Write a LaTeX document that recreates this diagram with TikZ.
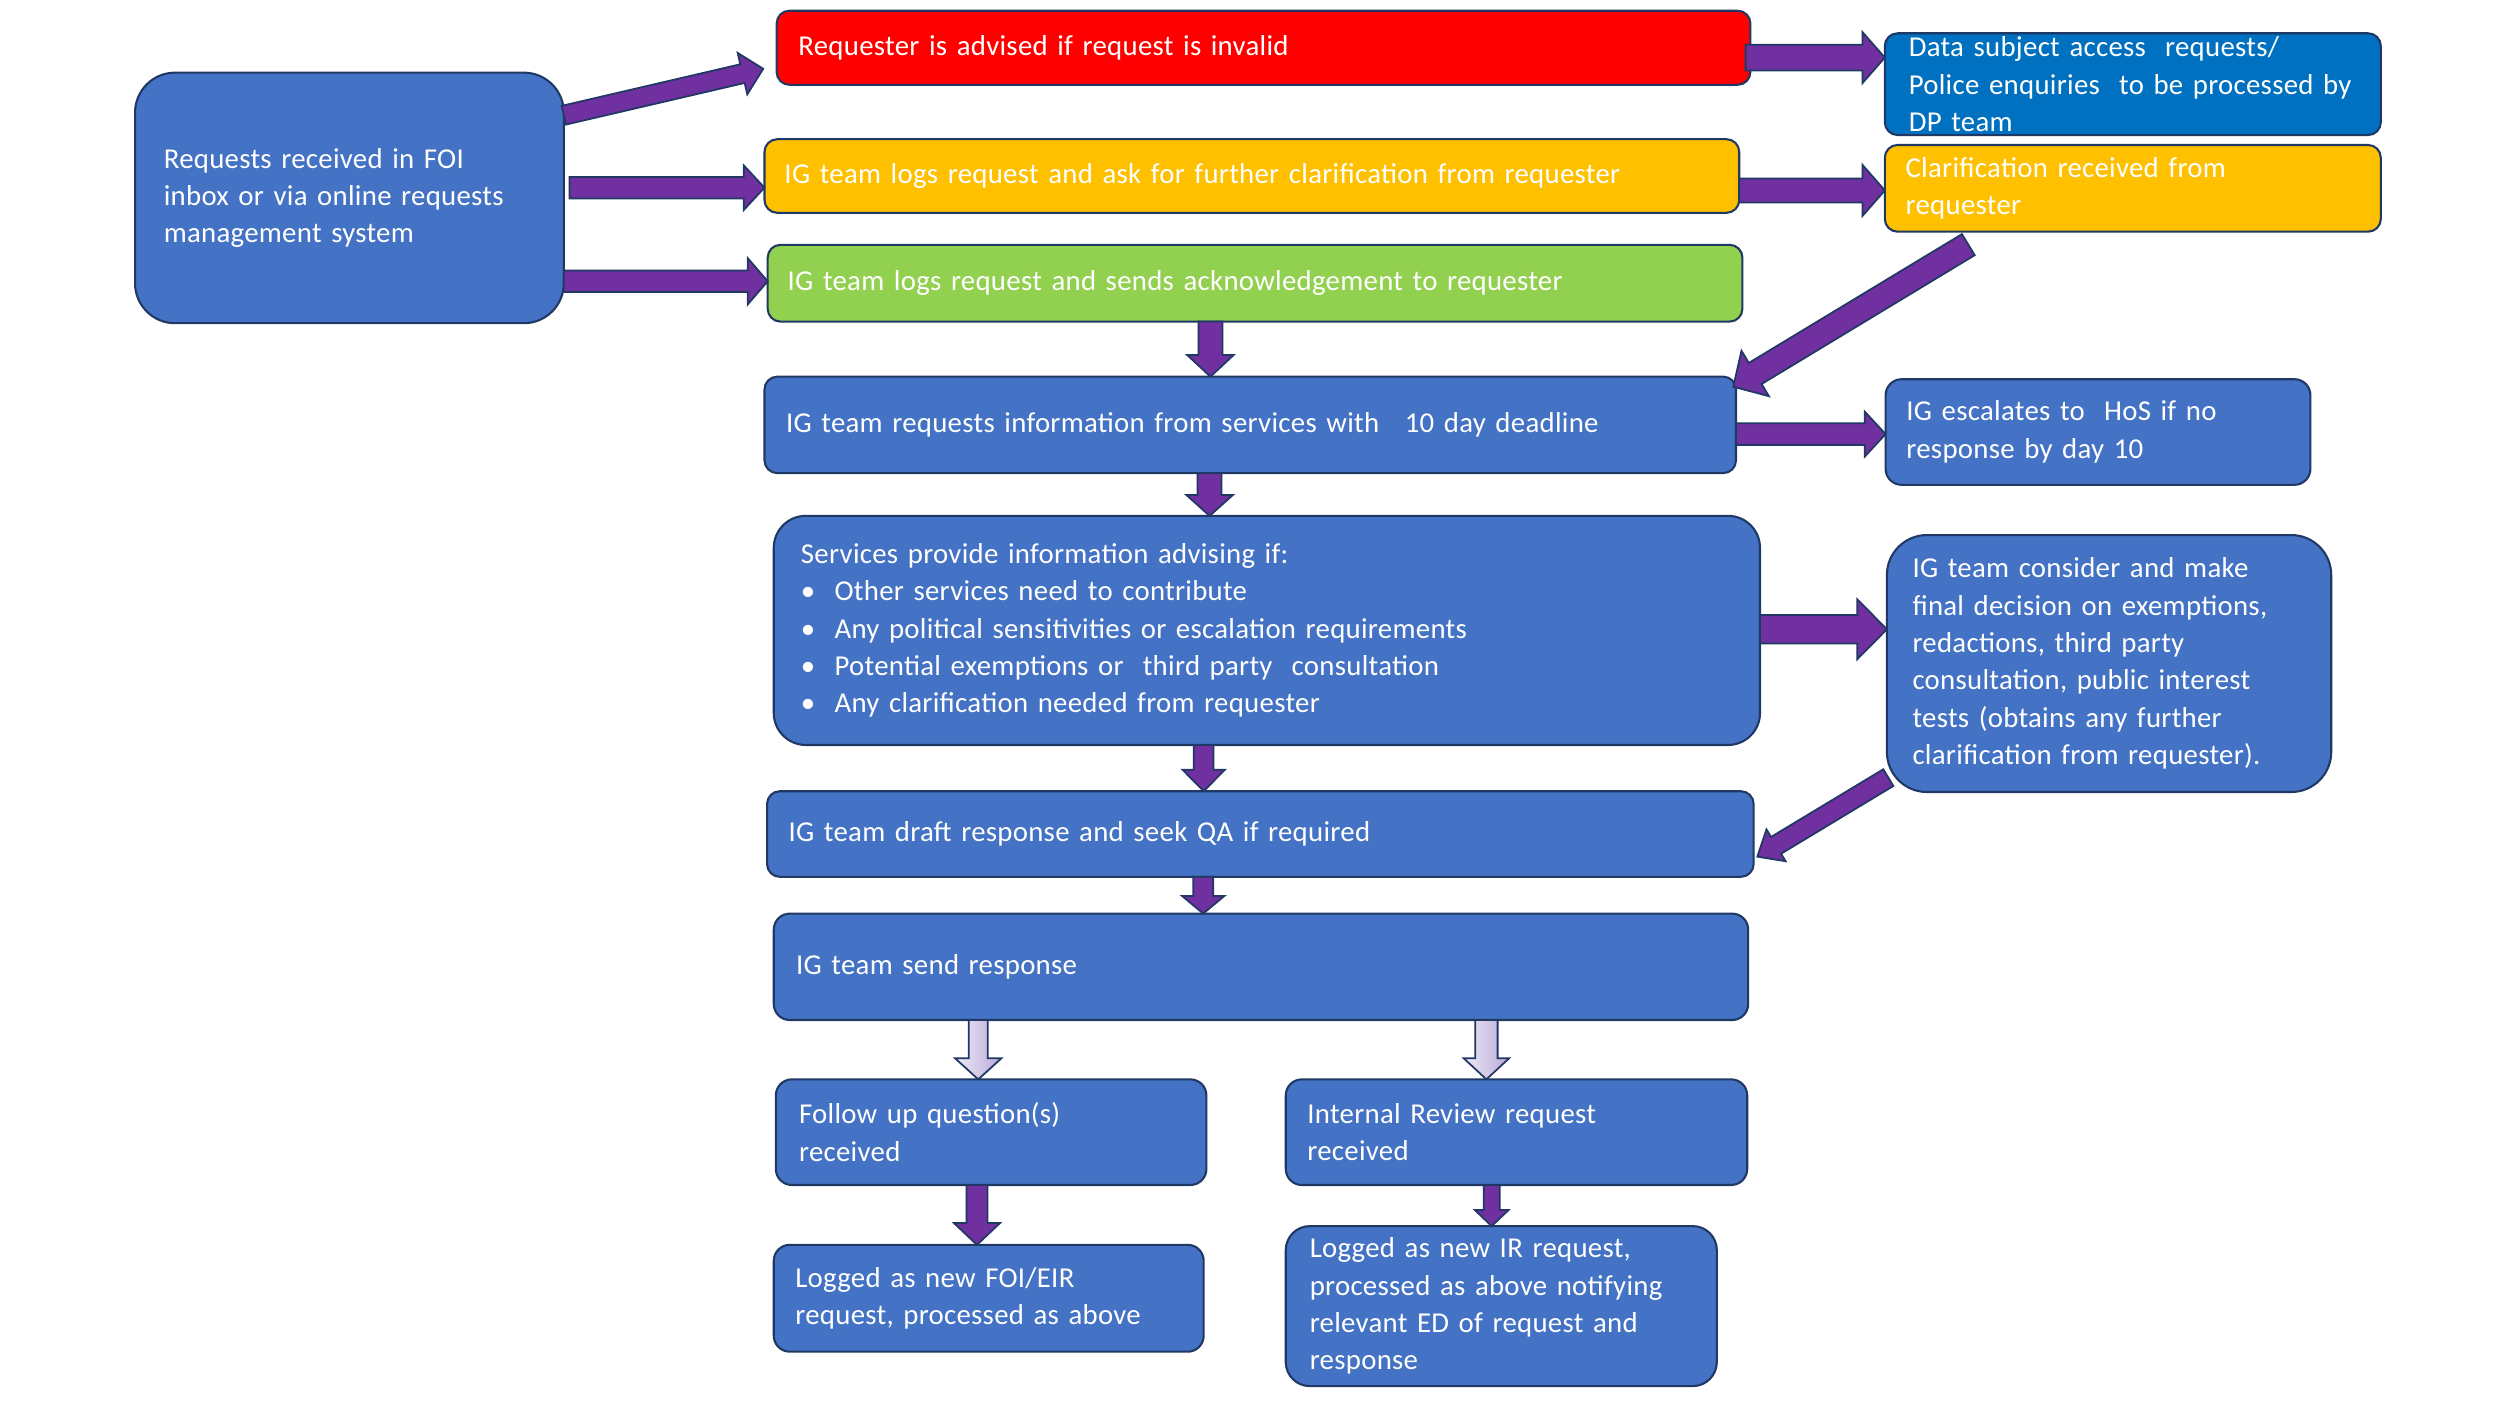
\documentclass[tikz,border=0pt]{standalone}
\usepackage{fontspec}
\setmainfont{Carlito}[LetterSpace=1.0]
\usetikzlibrary{calc}
\definecolor{navy}{HTML}{203864}
\definecolor{boxblue}{HTML}{4472C4}
\definecolor{dpblue}{HTML}{0070C0}
\definecolor{redbox}{HTML}{FF0000}
\definecolor{yelbox}{HTML}{FFC000}
\definecolor{grnbox}{HTML}{92D050}
\definecolor{purp}{HTML}{7030A0}
\definecolor{lavl}{HTML}{EEE9F5}
\definecolor{lavr}{HTML}{B9A9D9}
\tikzset{
  box/.style={draw=navy, line width=1.3pt, fill=boxblue, text=white, align=left,
    anchor=north west, outer sep=0pt, inner ysep=0pt, font=\fontsize{18}{23.4}\selectfont},
  arrowline/.style={draw=navy, line width=1.1pt, line join=miter},
  purpfill/.style={fill=purp},
  lavfill/.style={left color=lavl, right color=lavr},
}
% #1 style, #2 start, #3 end, #4 shaft half width, #5 head half width, #6 head length
\newcommand\blockarrow[6]{%
  \coordinate (bah) at ($(#3)!#6!(#2)$);
  \filldraw[arrowline,#1] ($(#2)!#4!90:(#3)$) -- ($(bah)!#4!-90:(#2)$) -- ($(bah)!#5!-90:(#2)$)
    -- (#3) -- ($(bah)!#5!90:(#2)$) -- ($(bah)!#4!90:(#2)$) -- ($(#2)!#4!-90:(#3)$) -- cycle;
}
\newcommand\bul{\makebox[21pt][l]{•}}
\begin{document}
\begin{tikzpicture}[x=1pt,y=-1pt]
\useasboundingbox (0,0) rectangle (1562.5,878.75);
\fill[white] (0,0) rectangle (1562.5,878.75);

% boxes
\node[box, rounded corners=25pt, inner xsep=18pt, text width=232pt, minimum height=156.6pt] (A) at (84.4,45.4)
  {Requests received in FOI\\inbox or via online requests\\management system};
\node[box, fill=redbox, rounded corners=8pt, inner xsep=13.6pt, text width=581.4pt, minimum height=46.3pt] (red) at (485.4,6.7)
  {Requester is advised if request is invalid};
\node[box, fill=yelbox, rounded corners=8pt, inner xsep=12.5pt, text width=584.2pt, minimum height=46pt] (yel) at (477.8,87)
  {IG team logs request and ask for further clarification from requester};
\node[box, fill=grnbox, rounded corners=8pt, inner xsep=12.5pt, text width=584.2pt, minimum height=48pt] (grn) at (479.8,153)
  {IG team logs request and sends acknowledgement to requester};
\node[box, rounded corners=8pt, inner xsep=13.5pt, text width=580.2pt, minimum height=60.3pt] (req) at (477.8,235.4)
  {IG team requests information from services with\hspace{16pt}10 day deadline};
\node[box, rounded corners=20pt, inner xsep=17pt, text width=582.4pt, minimum height=143.2pt] (serv) at (483.6,322.4)
  {Services provide information advising if:\\
   \bul Other services need to contribute\\
   \bul Any political sensitivities or escalation requirements\\
   \bul Potential exemptions or\ \ third party\ \ consultation\\
   \bul Any clarification needed from requester};
\node[box, rounded corners=8pt, inner xsep=13.5pt, text width=589.6pt, minimum height=53.5pt] (draft) at (479.4,494.5)
  {IG team draft response and seek QA if required};
\node[box, rounded corners=10pt, inner xsep=14pt, text width=581pt, minimum height=66.5pt] (send) at (483.6,571)
  {IG team send response};
\node[box, rounded corners=10pt, inner xsep=14.5pt, text width=240.1pt, minimum height=66pt] (fol) at (484.9,674.6)
  {Follow up question(s)\\received};
\node[box, rounded corners=10pt, inner xsep=13.5pt, text width=261.4pt, minimum height=66pt] (irr) at (803.6,674.6)
  {Internal Review request\\received};
\node[box, rounded corners=10pt, inner xsep=13.5pt, text width=241.7pt, minimum height=66.8pt] (lfoi) at (483.6,778)
  {Logged as new FOI/EIR\\request, processed as above};
\node[box, rounded corners=15pt, inner xsep=15pt, text width=239.4pt, minimum height=100pt] (lir) at (803.6,766.3)
  {Logged as new IR request,\\processed as above notifying\\relevant ED of request and\\response};
\node[box, fill=dpblue, rounded corners=8pt, inner xsep=15pt, text width=280pt, minimum height=63.6pt] (dsar) at (1178,20.8)
  {Data subject access\ \ requests/\\Police enquiries\ \ to be processed by\\DP team};
\node[box, fill=yelbox, rounded corners=8pt, inner xsep=13pt, text width=284pt, minimum height=54.2pt] (clar) at (1178,90.6)
  {Clarification received from\\requester};
\node[box, rounded corners=10pt, inner xsep=13pt, text width=239.5pt, minimum height=66pt] (esc) at (1178.5,237)
  {IG escalates to\ \ HoS if no\\response by day 10};
\node[box, rounded corners=25pt, inner xsep=16pt, text width=245.7pt, minimum height=160.6pt] (cons) at (1179.3,334.4)
  {IG team consider and make\\final decision on exemptions,\\redactions, third party\\consultation, public interest\\tests (obtains any further\\clarification from requester).};

% connectors
\blockarrow{purpfill}{A.east |- 0,72}{$(red.west |- 0,43)+(-8.4,0)$}{6pt}{13.3pt}{13.3pt}
\blockarrow{purpfill}{$(A.east |- 0,117.3)+(3.6,0)$}{yel.west |- 0,117.3}{6.75pt}{14pt}{13pt}
\blockarrow{purpfill}{A.east |- 0,175.8}{grn.west |- 0,175.8}{6.75pt}{14.5pt}{12.5pt}
\blockarrow{purpfill}{$(red.east |- 0,36)+(-3,0)$}{dsar.west |- 0,36}{8pt}{16pt}{14pt}
\blockarrow{purpfill}{yel.east |- 0,119}{clar.west |- 0,119}{7.5pt}{16pt}{14pt}
\blockarrow{purpfill}{$(clar.south -| 1230.2,0)+(0,8.1)$}{$(req.north east)+(-1.7,6.3)$}{7.7pt}{16.6pt}{16pt}
\blockarrow{purpfill}{grn.south -| 756.5,0}{req.north -| 756.5,0}{7.5pt}{14.5pt}{13.5pt}
\blockarrow{purpfill}{req.east |- 0,271.3}{esc.west |- 0,271.3}{6.8pt}{14pt}{13pt}
\blockarrow{purpfill}{req.south -| 756,0}{serv.north -| 756,0}{7.5pt}{14.5pt}{13pt}
\blockarrow{purpfill}{serv.east |- 0,393.3}{cons.west |- 0,393.3}{8.9pt}{18.7pt}{18.5pt}
\blockarrow{purpfill}{serv.south -| 752.3,0}{draft.north -| 752.3,0}{6.2pt}{13.2pt}{13.4pt}
\blockarrow{purpfill}{$(cons.south west)+(0.9,-9)$}{$(draft.east |- 0,535.4)+(2.3,0)$}{6.1pt}{11.6pt}{13.7pt}
\blockarrow{purpfill}{draft.south -| 752,0}{send.north -| 752,0}{6.2pt}{13.2pt}{11pt}
\blockarrow{lavfill}{send.south -| 611.4,0}{fol.north -| 611.4,0}{6pt}{14.5pt}{13.2pt}
\blockarrow{lavfill}{send.south -| 929,0}{irr.north -| 929,0}{7pt}{14.2pt}{13.2pt}
\blockarrow{purpfill}{fol.south -| 610.6,0}{lfoi.north -| 610.6,0}{6.6pt}{14.5pt}{13.7pt}
\blockarrow{purpfill}{irr.south -| 932.3,0}{lir.north -| 932.3,0}{5pt}{10.5pt}{10pt}
\end{tikzpicture}
\end{document}
